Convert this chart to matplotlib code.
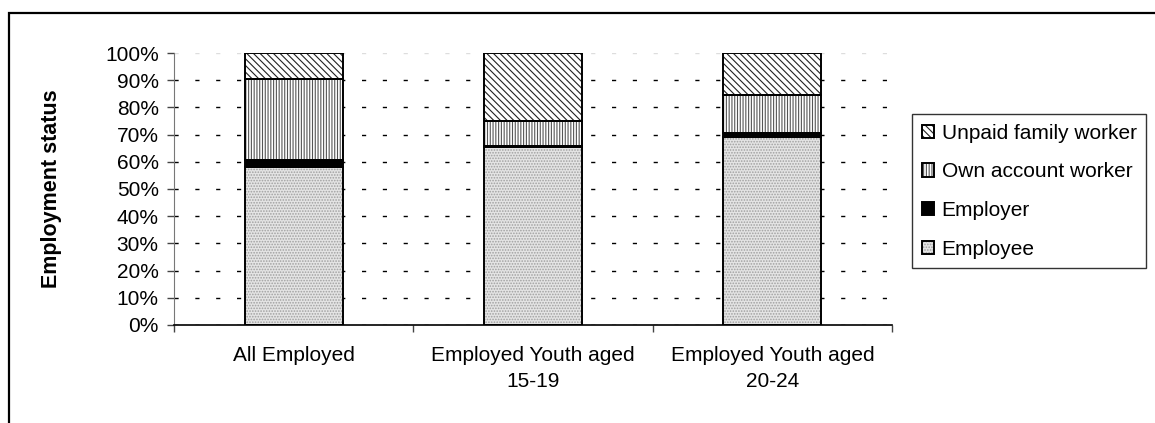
import matplotlib.pyplot as plt
import matplotlib.patches as mpatches
from matplotlib.legend_handler import HandlerTuple
from matplotlib.ticker import FixedLocator, PercentFormatter
import numpy as np

plt.rcParams['font.family'] = ['Liberation Sans', 'DejaVu Sans']
plt.rcParams['hatch.linewidth'] = 0.8

# share of employment status in each group (percent)
groups = ["All Employed", "Employed Youth aged\n15-19", "Employed Youth aged\n20-24"]
employee = [58.0, 65.5, 69.3]
employer = [2.5, 0.3, 1.2]
own_account = [30.0, 9.2, 14.0]
unpaid_family = [9.5, 25.0, 15.5]

series = [
    ("Employee", employee, "#e4e4e4", "......", "#a0a0a0"),
    ("Employer", employer, "black", None, "black"),
    ("Own account worker", own_account, "white", "||||||", "#555555"),
    ("Unpaid family worker", unpaid_family, "white", "\\\\\\\\\\", "#222222"),
]

FS = 15

fig = plt.figure(figsize=(11.55, 4.23), dpi=100)
ax = fig.add_axes([0.1506, 0.2317, 0.6217, 0.643])

# outer chart frame
fig.patches.append(mpatches.Rectangle((0.0078, -0.05), 1.05, 1.02, transform=fig.transFigure,
                                      fill=False, edgecolor="black", linewidth=1.6, zorder=0))

x = np.arange(len(groups))
width = 0.41
bottom = np.zeros(len(groups))
handles = []
for name, vals, face, hatch, hcolor in series:
    vals = np.array(vals)
    # hatched fill uses the edge colour for its lines, so the outline is drawn separately
    fill = ax.bar(x, vals, width, bottom=bottom, color=face, hatch=hatch,
                  edgecolor=hcolor, linewidth=0, zorder=2)
    outline = ax.bar(x, vals, width, bottom=bottom, facecolor="none",
                     edgecolor="black", linewidth=1.4, zorder=3)
    handles.append(((fill, outline), name))
    bottom += vals

ax.set_xlim(-0.5, len(groups) - 0.5)
ax.set_ylim(0, 100)
ax.yaxis.set_major_locator(FixedLocator(np.arange(0, 101, 10)))
ax.yaxis.set_major_formatter(PercentFormatter(decimals=0))

ax.set_xticks(x)
ax.set_xticklabels(groups, linespacing=1.45)
ax.xaxis.set_minor_locator(FixedLocator(np.arange(-0.5, len(groups), 1.0)))
ax.tick_params(axis="x", which="major", length=0, pad=15, labelsize=FS)
ax.tick_params(axis="x", which="minor", length=5, width=1, color="#444444")
ax.tick_params(axis="y", length=5, width=1, color="#444444", labelsize=FS, pad=6)

ax.yaxis.grid(True, linestyle=(0, (3, 12)), color="black", linewidth=1, zorder=1)
ax.set_axisbelow(True)
gl = ax.get_ygridlines()
gl[-1].set_color("#dddddd")

for side in ("top", "right"):
    ax.spines[side].set_visible(False)
ax.spines["left"].set_color("#777777")
ax.spines["bottom"].set_color("black")
ax.spines["bottom"].set_linewidth(1.2)

ax.set_ylabel("Employment status", fontsize=15.5, fontweight="bold", labelpad=31)

leg_handles = [h for h, _ in handles][::-1]
leg_labels = [n for _, n in handles][::-1]
leg = fig.legend(leg_handles, leg_labels, loc="upper left", bbox_to_anchor=(0.790, 0.730),
                 handler_map={tuple: HandlerTuple(ndivide=1, pad=0)},
                 fontsize=FS, frameon=True, fancybox=False, shadow=False,
                 handlelength=0.6, handleheight=0.6, handletextpad=0.35,
                 labelspacing=0.95, borderpad=0.45, borderaxespad=0)
leg.get_frame().set_edgecolor("black")
leg.get_frame().set_linewidth(1.0)

fig.savefig("out.png", dpi=100)
